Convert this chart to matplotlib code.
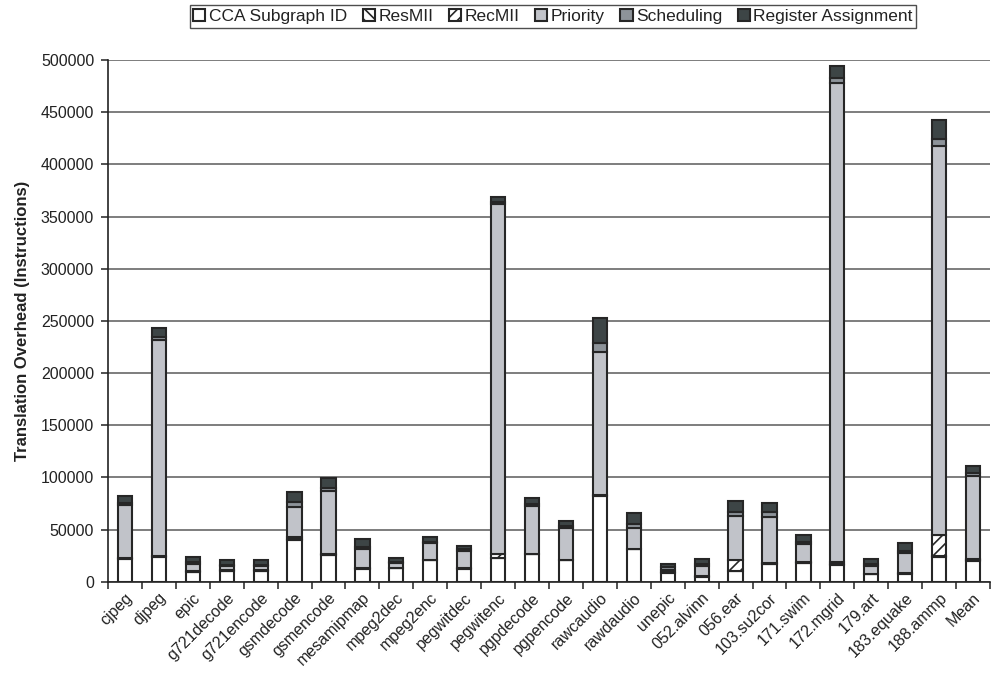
import matplotlib
matplotlib.use("Agg")
import matplotlib.pyplot as plt
import numpy as np
from matplotlib.ticker import FixedLocator, MultipleLocator

benchmarks = ["cjpeg", "djpeg", "epic", "g721decode", "g721encode", "gsmdecode",
              "gsmencode", "mesamipmap", "mpeg2dec", "mpeg2enc", "pegwitdec",
              "pegwitenc", "pgpdecode", "pgpencode", "rawcaudio", "rawdaudio",
              "unepic", "052.alvinn", "056.ear", "103.su2cor", "171.swim",
              "172.mgrid", "179.art", "183.equake", "188.ammp", "Mean"]

cca_subgraph_id = [22000, 24000, 9600, 10500, 10500, 40000, 25300, 12500, 12800, 20800,
                   12500, 22400, 26500, 20800, 82400, 31300, 8800, 4800, 10300, 17000,
                   18200, 16000, 7400, 8000, 24000, 19800]
res_mii = [500, 500, 300, 300, 300, 1500, 500, 300, 300, 300,
           300, 300, 300, 300, 500, 300, 200, 500, 300, 300,
           300, 1300, 300, 200, 500, 1000]
rec_mii = [500, 500, 300, 300, 300, 1500, 500, 300, 300, 300,
           300, 3800, 300, 300, 500, 300, 200, 500, 10200, 300,
           300, 1300, 300, 200, 20300, 1000]
priority = [51000, 207000, 6800, 3900, 3900, 28300, 60600, 18200, 4200, 15400,
            16600, 335500, 45400, 29800, 136500, 19900, 2300, 9500, 42500, 44700,
            17000, 459600, 7300, 18800, 373200, 79500]
scheduling = [2000, 3000, 1600, 700, 1000, 4800, 3200, 2200, 1000, 1500,
              1300, 2000, 2000, 1900, 8600, 3500, 2900, 1700, 3200, 4200,
              2500, 4800, 1700, 2500, 6000, 2600]
register_assignment = [6000, 8000, 4800, 4800, 4500, 9900, 9000, 7100, 4100, 4800,
                       3500, 5000, 6000, 5100, 23900, 10200, 2900, 4800, 10800, 9200,
                       6500, 11200, 4800, 7700, 18500, 7300]

series = [
    ("CCA Subgraph ID", cca_subgraph_id, "white", None),
    ("ResMII", res_mii, "white", "\\\\\\"),
    ("RecMII", rec_mii, "white", "///"),
    ("Priority", priority, "#c1c3c9", None),
    ("Scheduling", scheduling, "#8d9399", None),
    ("Register Assignment", register_assignment, "#3d4546", None),
]

plt.rcParams["font.family"] = ["Liberation Sans", "DejaVu Sans"]
plt.rcParams["hatch.linewidth"] = 1.2
plt.rcParams["hatch.color"] = "#222222"

fig = plt.figure(figsize=(9.91, 6.75), dpi=100)
ax = fig.add_axes([0.109, 0.138, 0.89, 0.773])

x = np.arange(len(benchmarks))
bottom = np.zeros(len(benchmarks))
for name, vals, color, hatch in series:
    vals = np.array(vals, dtype=float)
    ax.bar(x, vals, width=0.42, bottom=bottom, color=color, edgecolor="#262626",
           linewidth=1.5, hatch=hatch, label=name, zorder=3)
    bottom += vals

ax.set_xlim(-0.5, len(benchmarks) - 0.5)
ax.set_ylim(0, 500000)
ax.yaxis.set_major_locator(MultipleLocator(50000))
ax.grid(axis="y", color="#5a5a5a", linewidth=1.1, zorder=0)
ax.set_axisbelow(True)

for side in ["top", "right"]:
    ax.spines[side].set_visible(False)
ax.spines["left"].set_color("#222222")
ax.spines["bottom"].set_color("#222222")
ax.spines["left"].set_linewidth(1.2)
ax.spines["bottom"].set_linewidth(1.2)

ax.set_xticks(x)
ax.set_xticklabels(benchmarks, rotation=45, ha="right", rotation_mode="anchor",
                   fontsize=11.5, color="#222222")
ax.xaxis.set_minor_locator(FixedLocator(np.arange(-0.5, len(benchmarks), 1.0)))
ax.tick_params(axis="x", which="major", length=0, pad=6)
ax.tick_params(axis="x", which="minor", length=5, width=1.1, color="#222222")
ax.tick_params(axis="y", length=5, width=1.1, color="#222222", labelsize=11.5,
               labelcolor="#222222", pad=5)

ax.set_ylabel("Translation Overhead (Instructions)", fontsize=12, fontweight="bold",
              color="#222222", labelpad=8)

leg = fig.legend(loc="upper center", bbox_to_anchor=(0.558, 0.997), ncol=6,
                 frameon=True, fancybox=False, edgecolor="#222222",
                 fontsize=12.5, handlelength=0.7, handleheight=0.7,
                 handletextpad=0.2, columnspacing=0.9, borderpad=0.2,
                 borderaxespad=0.2)
leg.get_frame().set_linewidth(1.0)
for t in leg.get_texts():
    t.set_color("#222222")

fig.savefig("out.png", dpi=100)
